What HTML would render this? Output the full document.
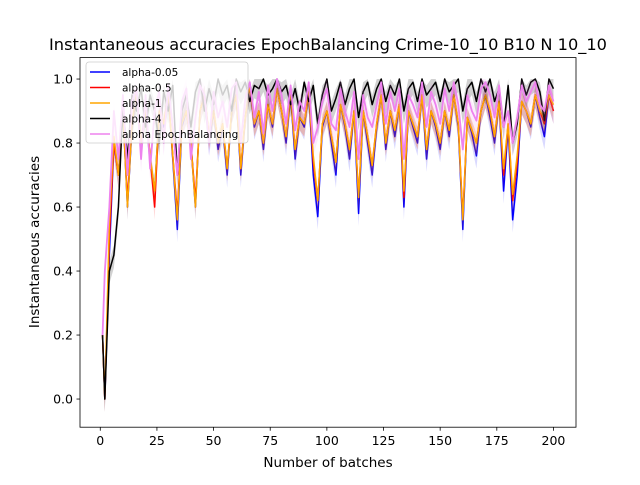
<!DOCTYPE html>
<html><head><meta charset="utf-8"><style>
body{margin:0;background:#fff;font-family:"Liberation Sans",sans-serif}
svg text{font-family:"DejaVu Sans","Liberation Sans",sans-serif}
</style></head><body>
<svg id="chart" width="640" height="480">
<rect width="640" height="480" fill="#fff"/>
<text x="328" y="50" text-anchor="middle" font-size="16.2">Instantaneous accuracies EpochBalancing Crime-10_10 B10 N 10_10</text>
<g id="plot"></g>
<g id="axes"></g>
<text x="328" y="467" text-anchor="middle" font-size="13.5">Number of batches</text>
<text transform="translate(39,242) rotate(-90)" text-anchor="middle" font-size="13.5">Instantaneous accuracies</text>
<g id="legend"></g>
</svg>
<script>
const batches=[1,2,4,6,8,10,12,14,16,18,20,22,24,26,28,30,32,34,36,38,40,42,44,46,48,50,52,54,56,58,60,62,64,66,68,70,72,74,76,78,80,82,84,86,88,90,92,94,96,98,100,102,104,106,108,110,112,114,116,118,120,122,124,126,128,130,132,134,136,138,140,142,144,146,148,150,152,154,156,158,160,162,164,166,168,170,172,174,176,178,180,182,184,186,188,190,192,194,196,198,200];
const blueVals=[0.2,0,0.45,0.8,0.7,0.9,0.6,0.85,0.95,0.8,0.9,0.75,0.65,0.9,0.85,0.95,0.75,0.53,0.85,0.9,0.8,0.6,0.9,0.95,0.8,0.9,0.78,0.85,0.7,0.9,0.95,0.7,0.88,0.98,0.85,0.9,0.78,0.92,0.85,0.97,0.9,0.8,0.95,0.75,0.88,0.85,0.96,0.7,0.57,0.85,0.9,0.8,0.7,0.92,0.85,0.75,0.9,0.58,0.9,0.8,0.7,0.85,0.95,0.78,0.9,0.82,0.92,0.6,0.9,0.85,0.8,0.95,0.75,0.9,0.85,0.78,0.9,0.82,0.95,0.85,0.53,0.88,0.83,0.76,0.9,0.95,0.88,0.8,0.93,0.65,0.85,0.56,0.7,0.93,0.9,0.85,0.95,0.88,0.82,0.95,0.9];
const redVals=[0.2,0,0.5,0.8,0.7,0.9,0.62,0.86,0.95,0.8,0.9,0.76,0.6,0.9,0.86,0.95,0.76,0.58,0.86,0.9,0.8,0.62,0.9,0.95,0.82,0.9,0.8,0.86,0.72,0.9,0.95,0.72,0.88,0.98,0.86,0.9,0.8,0.92,0.86,0.97,0.9,0.82,0.95,0.78,0.88,0.86,0.96,0.74,0.62,0.86,0.9,0.82,0.74,0.92,0.86,0.78,0.9,0.63,0.9,0.82,0.73,0.86,0.95,0.8,0.9,0.84,0.92,0.63,0.9,0.86,0.82,0.95,0.78,0.9,0.86,0.8,0.9,0.84,0.95,0.86,0.57,0.88,0.84,0.8,0.9,0.95,0.9,0.82,0.93,0.7,0.86,0.62,0.74,0.93,0.9,0.86,0.95,0.9,0.86,0.95,0.9];
const orangeVals=[0.2,0,0.55,0.82,0.7,0.9,0.6,0.86,0.95,0.8,0.9,0.76,0.65,0.9,0.86,0.95,0.76,0.56,0.86,0.9,0.8,0.6,0.9,0.95,0.82,0.9,0.8,0.86,0.72,0.9,0.95,0.72,0.88,0.98,0.86,0.9,0.8,0.92,0.86,0.97,0.9,0.82,0.95,0.78,0.88,0.86,0.96,0.76,0.62,0.86,0.9,0.82,0.74,0.92,0.86,0.78,0.9,0.63,0.9,0.82,0.73,0.86,0.95,0.8,0.9,0.84,0.92,0.65,0.9,0.86,0.82,0.95,0.78,0.9,0.86,0.8,0.9,0.84,0.95,0.86,0.56,0.88,0.84,0.8,0.9,0.95,0.9,0.82,0.93,0.72,0.86,0.64,0.76,0.93,0.9,0.86,0.95,0.9,0.88,0.95,0.92];
const blackVals=[0.2,0,0.4,0.45,0.6,0.92,0.75,0.95,0.9,0.97,0.85,0.95,0.9,0.8,0.96,0.9,0.98,0.7,0.9,0.95,0.85,0.96,1.0,0.9,0.97,0.92,1.0,0.95,0.98,0.9,1.0,0.96,0.99,0.93,0.98,0.97,1.0,0.95,0.97,1.0,0.96,0.98,0.92,0.97,0.9,0.99,0.93,0.98,0.86,0.95,1.0,0.9,0.94,0.99,0.92,0.97,1.0,0.88,0.96,0.99,0.92,0.97,1.0,0.93,0.98,0.95,1.0,0.9,0.97,0.99,0.93,1.0,0.95,0.97,0.99,0.93,1.0,0.96,0.98,1.0,0.9,0.97,0.99,0.93,1.0,0.96,1.0,0.93,0.97,0.85,0.98,0.8,0.86,1.0,0.95,0.99,1.0,0.96,0.87,1.0,0.97];
const pinkVals=[0.2,0.4,0.6,0.9,0.75,0.95,0.7,0.93,0.97,0.75,0.95,0.72,0.9,0.96,0.8,0.98,0.85,0.7,0.93,0.97,0.75,0.88,0.98,0.95,0.8,0.96,0.88,0.93,0.85,0.97,0.99,0.8,0.94,0.99,0.88,0.96,0.83,0.98,0.9,1.0,0.95,0.86,0.98,0.84,0.93,0.9,0.99,0.8,0.85,0.93,0.97,0.86,0.84,0.97,0.9,0.85,0.96,0.75,0.95,0.88,0.85,0.92,0.99,0.86,0.96,0.9,0.97,0.75,0.95,0.92,0.88,0.99,0.85,0.96,0.92,0.86,0.97,0.9,0.99,0.92,0.78,0.95,0.9,0.87,0.97,0.99,0.95,0.88,0.98,0.85,0.9,0.8,0.88,0.98,0.93,0.96,0.99,0.92,0.9,0.98,0.93];
const xTicks=[0,25,50,75,100,125,150,175,200];
const yTicks=[0.0,0.2,0.4,0.6,0.8,1.0];
const seriesNames=["alpha-0.05","alpha-0.5","alpha-1","alpha-4","alpha EpochBalancing"];
const L=80,R=576,T=57.6,B=427.2,xmin=-8.95,xmax=209.95,ymin=-0.088,ymax=1.067;
const X=v=>L+(v-xmin)/(xmax-xmin)*(R-L);
const Y=v=>B-(v-ymin)/(ymax-ymin)*(B-T);
const NS="http://www.w3.org/2000/svg";
const plot=document.getElementById('plot'),axes=document.getElementById('axes'),leg=document.getElementById('legend');
function mk(tag,attrs,parent){const e=document.createElementNS(NS,tag);for(const k in attrs)e.setAttribute(k,attrs[k]);parent.appendChild(e);return e;}
const series=[[blueVals,"#0000ff"],[redVals,"#ff0000"],[orangeVals,"#ffa500"],[blackVals,"#000000"],[pinkVals,"#ee82ee"]];
series.forEach((s,i)=>{
  const vals=s[0];
  const up=batches.map((b,j)=>X(b)+','+Y(Math.min(1.0,vals[j]+0.03))).join(' ');
  const dn=batches.map((b,j)=>X(b)+','+Y(vals[j]-0.04)).reverse().join(' ');
  const band=mk('polygon',{points:up+' '+dn,fill:s[1],'fill-opacity':i==3?0.18:0.15,stroke:'none'},plot);
  
  
  const pl=mk('polyline',{points:batches.map((b,j)=>X(b)+','+Y(vals[j])).join(' '),fill:'none',stroke:s[1],'stroke-width':i==4?1.8:1.5,'stroke-linejoin':'round'},plot);
  
  
});
const frame=mk('rect',{x:L,y:T,width:R-L,height:B-T,fill:'none',stroke:'#000','stroke-width':0.8},axes);


xTicks.forEach(t=>{
  mk('line',{x1:X(t),x2:X(t),y1:B,y2:B+3.5,stroke:'#000','stroke-width':0.8},axes);
  const tx=mk('text',{x:X(t),y:B+18,'text-anchor':'middle','font-size':12.5},axes);
  tx.textContent=t;
  
  
});
yTicks.forEach(t=>{
  mk('line',{x1:L-3.5,x2:L,y1:Y(t),y2:Y(t),stroke:'#000','stroke-width':0.8},axes);
  const tx=mk('text',{x:L-7,y:Y(t)+4.5,'text-anchor':'end','font-size':12.5},axes);
  tx.textContent=t.toFixed(1);
  
  
});
const lb=mk('rect',{x:86,y:62,width:162,height:81,rx:3,fill:'#fff','fill-opacity':0.8,stroke:'#ccc','stroke-width':0.8},leg);


seriesNames.forEach((n,i)=>{
  const y=72+i*15.5;
  mk('line',{x1:90,x2:110,y1:y,y2:y,stroke:series[i][1],'stroke-width':1.5},leg);
  const tx=mk('text',{x:122,y:y+4,'font-size':10.5},leg);
  tx.textContent=n;
  
  
});
</script>
</body></html>
